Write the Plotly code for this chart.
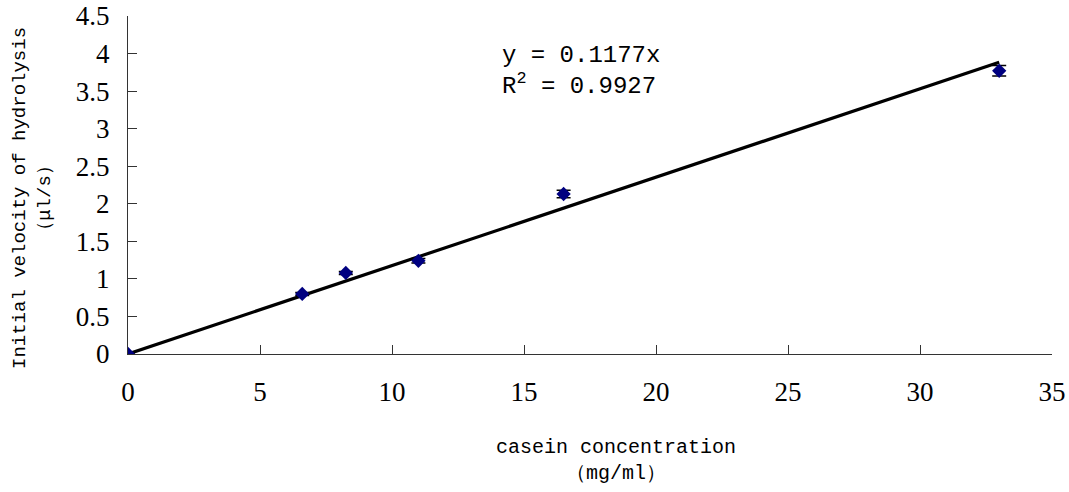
import plotly.graph_objects as go

# Data
conc = [0, 6.6, 8.25, 11, 16.5, 33]
velocity = [0, 0.80, 1.08, 1.24, 2.13, 3.77]
err = [0.0, 0.02, 0.02, 0.03, 0.05, 0.07]
slope = 0.1177
fit_x = [0, 33]
fit_y = [slope * v for v in fit_x]

MONO = "Liberation Mono"
SERIF = "Liberation Serif"

fig = go.Figure()
fig.add_trace(go.Scatter(
    x=fit_x, y=fit_y, mode="lines",
    line=dict(color="black", width=3.2), showlegend=False, hoverinfo="skip"))
fig.add_trace(go.Scatter(
    x=conc, y=velocity, mode="markers",
    marker=dict(symbol="diamond", color="#000080", size=11),
    error_y=dict(type="data", array=err, color="black", thickness=1.5, width=7),
    showlegend=False))

L, R, T, B = 128, 17, 16, 138
PW = 1069 - L - R
PH = 492 - T - B

fig.update_layout(
    width=1069, height=492,
    margin=dict(l=L, r=R, t=T, b=B, autoexpand=False),
    paper_bgcolor="white", plot_bgcolor="white",
    font=dict(family=MONO, color="black", size=24),
    xaxis=dict(range=[0, 35], dtick=5, showline=True, linecolor="#333",
               linewidth=1, ticks="inside", ticklen=9, tickcolor="#333",
               showgrid=False, zeroline=False, automargin=False,
               tickfont=dict(family=SERIF, size=27),
               ticklabelstandoff=14),
    yaxis=dict(range=[0, 4.5], dtick=0.5, showline=True, linecolor="#333",
               linewidth=1, ticks="inside", ticklen=9, tickcolor="#333",
               showgrid=False, zeroline=False, automargin=False,
               tickfont=dict(family=SERIF, size=27),
               ticklabelstandoff=12),
    annotations=[
        dict(text="y = 0.1177x<br>R<sup>2</sup> = 0.9927",
             x=(500 - L) / PW, y=(PH - (40 - T)) / PH,
             xref="paper", yref="paper", showarrow=False, align="left",
             xanchor="left", yanchor="top", font=dict(family=MONO, size=24)),
        dict(text="casein concentration<br>（mg/ml）", xref="paper", yref="paper",
             x=(616 - L) / PW, y=-(434 - (T + PH)) / PH, xanchor="center",
             yanchor="top", showarrow=False, font=dict(family=MONO, size=20)),
        dict(text="Initial velocity of hydrolysis<br>（μl/s）", xref="paper", yref="paper",
             x=(32 - L) / PW, y=(PH - (198 - T)) / PH, xanchor="center",
             yanchor="middle", showarrow=False, textangle=-90,
             font=dict(family=MONO, size=19)),
    ],
)

fig.write_html(
    "out.html",
    config={"displayModeBar": False},
    post_script="document.body.style.margin='0';document.body.style.overflow='hidden';",
)
